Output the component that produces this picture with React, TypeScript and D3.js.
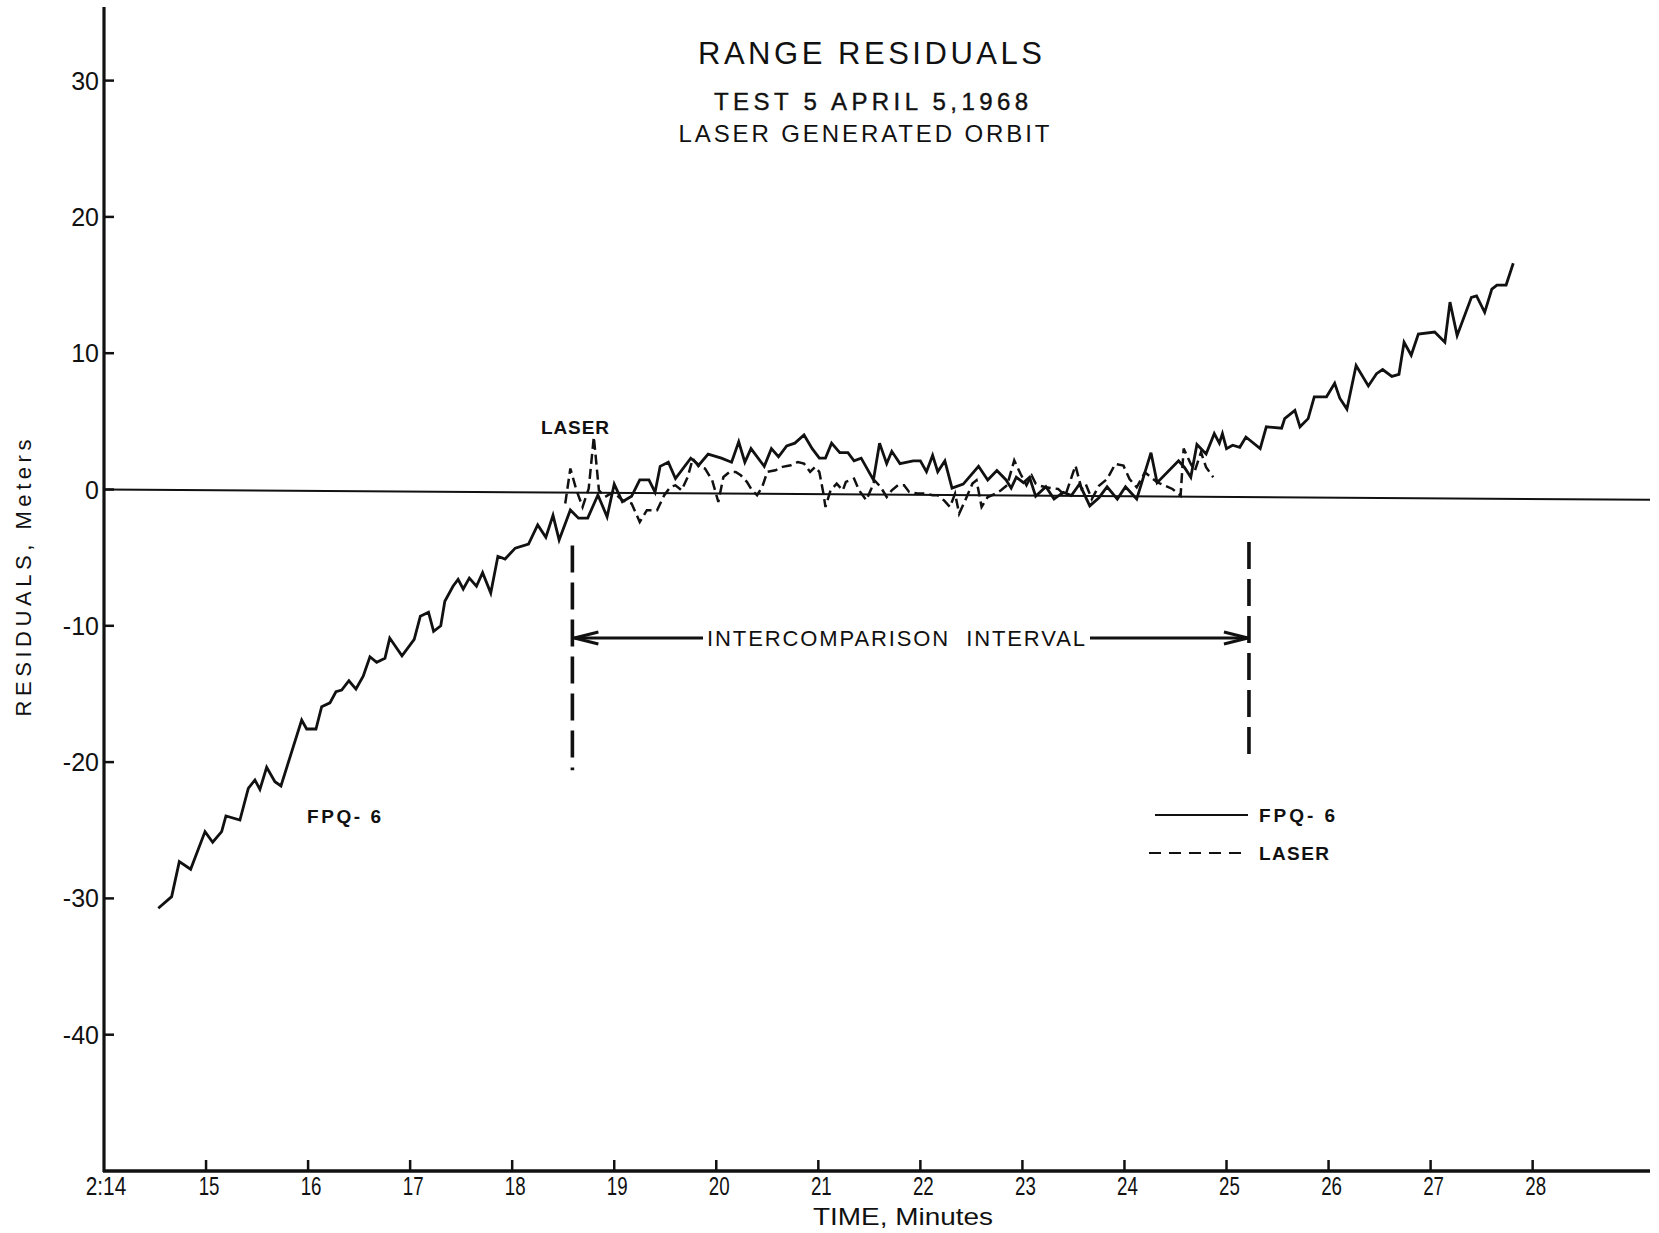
import React from "react";
import * as d3 from "d3";

// Residual time series: [minute past 2:00, residual in meters]
const FPQ6_SERIES: Array<[number, number]> = [
  [14.532, -30.72], [14.663, -29.87], [14.738, -27.3], [14.849, -27.86], [14.99, -25.1],
  [15.065, -25.88], [15.153, -25.1], [15.195, -23.95], [15.332, -24.25], [15.414, -21.92],
  [15.479, -21.31], [15.528, -22.0], [15.594, -20.38], [15.675, -21.44], [15.734, -21.75],
  [15.937, -16.91], [15.986, -17.57], [16.077, -17.57], [16.133, -15.94], [16.214, -15.65],
  [16.273, -14.84], [16.329, -14.71], [16.4, -14.03], [16.469, -14.64], [16.54, -13.69],
  [16.606, -12.27], [16.672, -12.68], [16.753, -12.39], [16.8, -10.9], [16.92, -12.2],
  [17.04, -11.0], [17.1, -9.3], [17.18, -9.0], [17.23, -10.4], [17.3, -10.0],
  [17.34, -8.2], [17.42, -7.1], [17.47, -6.6], [17.52, -7.3], [17.58, -6.5],
  [17.65, -7.1], [17.71, -6.1], [17.79, -7.6], [17.86, -4.9], [17.93, -5.1],
  [18.03, -4.3], [18.16, -4.0], [18.25, -2.6], [18.33, -3.5], [18.4, -1.9],
  [18.46, -3.7], [18.57, -1.5], [18.65, -2.1], [18.74, -2.1], [18.84, -0.4],
  [18.93, -2.0], [19.0, 0.4], [19.08, -0.9], [19.17, -0.5], [19.25, 0.7],
  [19.34, 0.7], [19.4, -0.2], [19.45, 1.7], [19.53, 2.0], [19.6, 0.8],
  [19.75, 2.3], [19.83, 1.8], [19.92, 2.6], [20.05, 2.3], [20.15, 2.0],
  [20.22, 3.5], [20.28, 2.0], [20.34, 3.0], [20.47, 1.7], [20.54, 3.0],
  [20.61, 2.4], [20.69, 3.2], [20.77, 3.4], [20.86, 4.0], [20.94, 3.0],
  [21.01, 2.3], [21.07, 2.3], [21.13, 3.4], [21.21, 2.7], [21.29, 2.7],
  [21.35, 2.1], [21.42, 2.3], [21.54, 0.7], [21.6, 3.4], [21.67, 1.9],
  [21.72, 2.8], [21.8, 1.9], [21.93, 2.1], [22.0, 2.1], [22.06, 1.3],
  [22.12, 2.5], [22.17, 1.3], [22.24, 2.1], [22.31, 0.1], [22.42, 0.4],
  [22.57, 1.7], [22.66, 0.7], [22.75, 1.4], [22.84, 0.7], [22.89, 0.1],
  [22.94, 0.9], [23.01, 0.5], [23.07, 0.9], [23.13, -0.5], [23.23, 0.2],
  [23.31, -0.7], [23.4, -0.2], [23.48, -0.45], [23.56, 0.4], [23.66, -1.2],
  [23.75, -0.6], [23.83, 0.2], [23.93, -0.7], [24.01, 0.2], [24.12, -0.7],
  [24.26, 2.7], [24.32, 0.5], [24.53, 2.1], [24.59, 1.6], [24.65, 0.9],
  [24.71, 3.3], [24.8, 2.6], [24.88, 4.1], [24.93, 3.4], [24.96, 4.1],
  [25.0, 3.0], [25.06, 3.25], [25.13, 3.1], [25.19, 3.85], [25.33, 3.0],
  [25.39, 4.6], [25.54, 4.5], [25.57, 5.2], [25.67, 5.8], [25.72, 4.6],
  [25.8, 5.2], [25.86, 6.8], [25.98, 6.8], [26.06, 7.8], [26.11, 6.7],
  [26.18, 5.9], [26.27, 9.1], [26.39, 7.6], [26.47, 8.5], [26.53, 8.8],
  [26.62, 8.3], [26.69, 8.45], [26.74, 10.8], [26.81, 9.85], [26.88, 11.4],
  [27.04, 11.55], [27.14, 10.8], [27.19, 13.75], [27.26, 11.3], [27.4, 14.1],
  [27.45, 14.2], [27.53, 13.0], [27.6, 14.7], [27.65, 15.0], [27.74, 15.0],
  [27.81, 16.6],
];

const LASER_SERIES: Array<[number, number]> = [
  [18.52, -1.03], [18.57, 1.54], [18.63, -0.06], [18.69, -1.28], [18.75, 0.07],
  [18.8, 3.86], [18.85, -0.06], [18.91, -0.55], [18.99, -0.18], [19.08, -0.79],
  [19.17, -1.03], [19.25, -2.38], [19.32, -1.52], [19.42, -1.52], [19.49, -0.42],
  [19.55, 0.19], [19.6, 0.31], [19.66, -0.06], [19.72, 0.92], [19.77, 2.27],
  [19.83, 1.66], [19.89, 1.53], [19.96, 0.68], [20.02, -0.91], [20.07, 0.92],
  [20.13, 1.29], [20.19, 1.29], [20.24, 1.04], [20.3, 0.56], [20.35, -0.06],
  [20.4, -0.42], [20.45, 0.19], [20.5, 1.29], [20.58, 1.41], [20.65, 1.66],
  [20.73, 1.78], [20.8, 2.02], [20.86, 1.9], [20.92, 1.29], [20.97, 1.66],
  [21.01, 1.29], [21.05, -0.3], [21.07, -1.28], [21.12, -0.06], [21.18, 0.43],
  [21.24, -0.06], [21.27, 0.56], [21.31, 0.68], [21.35, 0.8], [21.4, -0.06],
  [21.47, -0.79], [21.52, 0.07], [21.55, 0.68], [21.61, 0.19], [21.67, -0.55],
  [21.72, -0.06], [21.78, 0.31], [21.84, 0.31], [21.89, -0.18], [21.97, -0.3],
  [22.04, -0.3], [22.12, -0.42], [22.17, -0.42], [22.23, -0.79], [22.29, -1.28],
  [22.34, -0.3], [22.38, -1.77], [22.44, -0.79], [22.51, 0.43], [22.55, 0.68],
  [22.6, -1.28], [22.66, -0.55], [22.74, -0.3], [22.79, -0.06], [22.85, 0.31],
  [22.92, 2.14], [22.98, 1.17], [23.04, 0.31], [23.09, 1.04], [23.13, 0.43],
  [23.17, 0.28], [23.23, 0.16], [23.35, 0.04], [23.42, -0.45], [23.52, 1.75],
  [23.58, 0.04], [23.62, 0.4], [23.68, -0.7], [23.75, 0.28], [23.83, 0.77],
  [23.91, 1.87], [23.99, 1.75], [24.05, 0.77], [24.12, 0.16], [24.2, 1.26],
  [24.32, 0.53], [24.47, 0.04], [24.55, -0.45], [24.58, 3.0], [24.65, 1.87],
  [24.69, 1.38], [24.75, 2.73], [24.8, 1.63], [24.87, 0.9],
];

// Hand-ruled zero reference line (start and end points)
const ZERO_LINE: Array<[number, number]> = [[14, 0], [29.15, -0.75]];

const Y_TICKS = [30, 20, 10, 0, -10, -20, -30, -40];
const X_TICKS = [15, 16, 17, 18, 19, 20, 21, 22, 23, 24, 25, 26, 27, 28];
const X_ORIGIN_LABEL = "2:14";

// Intercomparison interval markers: [minute, top residual, bottom residual]
const INTERVAL_MARKERS: Array<[number, number, number]> = [
  [18.59, -4.1, -20.6],
  [25.22, -3.85, -19.6],
];
const INTERVAL_ARROW_LEVEL = -10.9;

const W = 1659;
const H = 1233;
const FONT = "'Liberation Sans', Arial, Helvetica, sans-serif";

export default function App() {
  const x = d3.scaleLinear().domain([14, 29.15]).range([104, 1650]);
  const y = d3.scaleLinear().domain([-50, 35.4]).range([1171, 7]);

  const line = d3
    .line<[number, number]>()
    .x((d) => x(d[0]))
    .y((d) => y(d[1]));

  const [m0] = INTERVAL_MARKERS[0];
  const [m1] = INTERVAL_MARKERS[1];
  const ay = y(INTERVAL_ARROW_LEVEL);
  const ax0 = x(m0) + 2;
  const ax1 = x(m1) - 1;

  return (
    <svg
      width={W}
      height={H}
      style={{ position: "absolute", left: 0, top: 0, display: "block", background: "#fff" }}
      fontFamily={FONT}
    >
      <rect x={0} y={0} width={W} height={H} fill="#fff" />

      {/* titles */}
      <g fill="#111" style={{ whiteSpace: "pre" }}>
        <text x={870} y={64} fontSize={31} textAnchor="middle" textLength={344} lengthAdjust="spacing">
          RANGE  RESIDUALS
        </text>
        <text x={871} y={110} fontSize={24} textAnchor="middle" textLength={314} lengthAdjust="spacing" stroke="#111" strokeWidth={0.4}>
          TEST 5  APRIL  5,1968
        </text>
        <text x={864} y={142} fontSize={24} textAnchor="middle" textLength={371} lengthAdjust="spacing">
          LASER  GENERATED  ORBIT
        </text>
      </g>

      {/* zero reference line */}
      <path d={line(ZERO_LINE) || ""} fill="none" stroke="#111" strokeWidth={2} />

      {/* axes */}
      <line x1={x(14)} x2={x(14)} y1={y(35.4)} y2={y(-50) + 1} stroke="#111" strokeWidth={3.2} />
      <line x1={x(14) - 1} x2={x(29.15)} y1={y(-50)} y2={y(-50)} stroke="#111" strokeWidth={3.4} />

      {Y_TICKS.map((v) => (
        <g key={"y" + v}>
          <line x1={x(14)} x2={x(14) + 10} y1={y(v)} y2={y(v)} stroke="#111" strokeWidth={2.5} />
          <text x={99} y={y(v) + 9} fontSize={25} textAnchor="end" fill="#111">
            {v}
          </text>
        </g>
      ))}

      {X_TICKS.map((m) => (
        <g key={"x" + m}>
          <line x1={x(m)} x2={x(m)} y1={y(-50)} y2={y(-50) - 11} stroke="#111" strokeWidth={2.5} />
          <text
            transform={`translate(${x(m) + 3}, 1195) scale(0.72, 1)`}
            fontSize={26}
            textAnchor="middle"
            fill="#111"
          >
            {m}
          </text>
        </g>
      ))}
      <text transform={`translate(${x(14) + 2}, 1195) scale(0.8, 1)`} fontSize={26} textAnchor="middle" fill="#111">
        {X_ORIGIN_LABEL}
      </text>

      {/* axis titles */}
      <text
        x={903}
        y={1225}
        fontSize={24}
        textAnchor="middle"
        textLength={180}
        lengthAdjust="spacingAndGlyphs"
        fill="#111"
      >
        TIME, Minutes
      </text>
      <text
        transform={`translate(31, 578) rotate(-90)`}
        fontSize={22}
        textAnchor="middle"
        textLength={277}
        lengthAdjust="spacing"
        fill="#111"
      >
        RESIDUALS, Meters
      </text>

      {/* series */}
      <path
        d={line(FPQ6_SERIES) || ""}
        fill="none"
        stroke="#111"
        strokeWidth={2.8}
        strokeLinejoin="miter"
        strokeMiterlimit={4}
      />
      <path
        d={line(LASER_SERIES) || ""}
        fill="none"
        stroke="#111"
        strokeWidth={2.5}
        strokeDasharray="10 5"
      />

      {/* intercomparison interval */}
      {INTERVAL_MARKERS.map(([m, top, bottom]) => (
        <line
          key={"iv" + m}
          x1={x(m)}
          x2={x(m)}
          y1={y(top)}
          y2={y(bottom)}
          stroke="#111"
          strokeWidth={3.6}
          strokeDasharray="27 10"
        />
      ))}
      <line x1={ax0} x2={703} y1={ay} y2={ay} stroke="#111" strokeWidth={3} />
      <line x1={1090} x2={ax1} y1={ay} y2={ay} stroke="#111" strokeWidth={3} />
      <path
        d={`M${ax0 + 24},${ay - 6} L${ax0},${ay} L${ax0 + 24},${ay + 6}`}
        fill="none"
        stroke="#111"
        strokeWidth={3}
      />
      <path
        d={`M${ax1 - 24},${ay - 6} L${ax1},${ay} L${ax1 - 24},${ay + 6}`}
        fill="none"
        stroke="#111"
        strokeWidth={3}
      />
      <text
        x={707}
        y={ay + 8}
        fontSize={22}
        textLength={378}
        lengthAdjust="spacing"
        fill="#111"
        style={{ whiteSpace: "pre" }}
      >
        INTERCOMPARISON  INTERVAL
      </text>

      {/* series annotations */}
      <text x={575} y={434} fontSize={19} fontWeight="bold" textAnchor="middle" textLength={68} lengthAdjust="spacing" fill="#111">
        LASER
      </text>
      <text x={307} y={823} fontSize={19} fontWeight="bold" textLength={74} lengthAdjust="spacing" fill="#111" style={{ whiteSpace: "pre" }}>
        FPQ- 6
      </text>

      {/* legend */}
      <line x1={1155} x2={1248} y1={815} y2={815} stroke="#111" strokeWidth={2.2} />
      <text x={1259} y={822} fontSize={19} fontWeight="bold" textLength={76} lengthAdjust="spacing" fill="#111" style={{ whiteSpace: "pre" }}>
        FPQ- 6
      </text>
      <line x1={1149} x2={1246} y1={853} y2={853} stroke="#111" strokeWidth={2.2} strokeDasharray="12 8" />
      <text x={1259} y={860} fontSize={19} fontWeight="bold" textLength={70} lengthAdjust="spacing" fill="#111">
        LASER
      </text>
    </svg>
  );
}
